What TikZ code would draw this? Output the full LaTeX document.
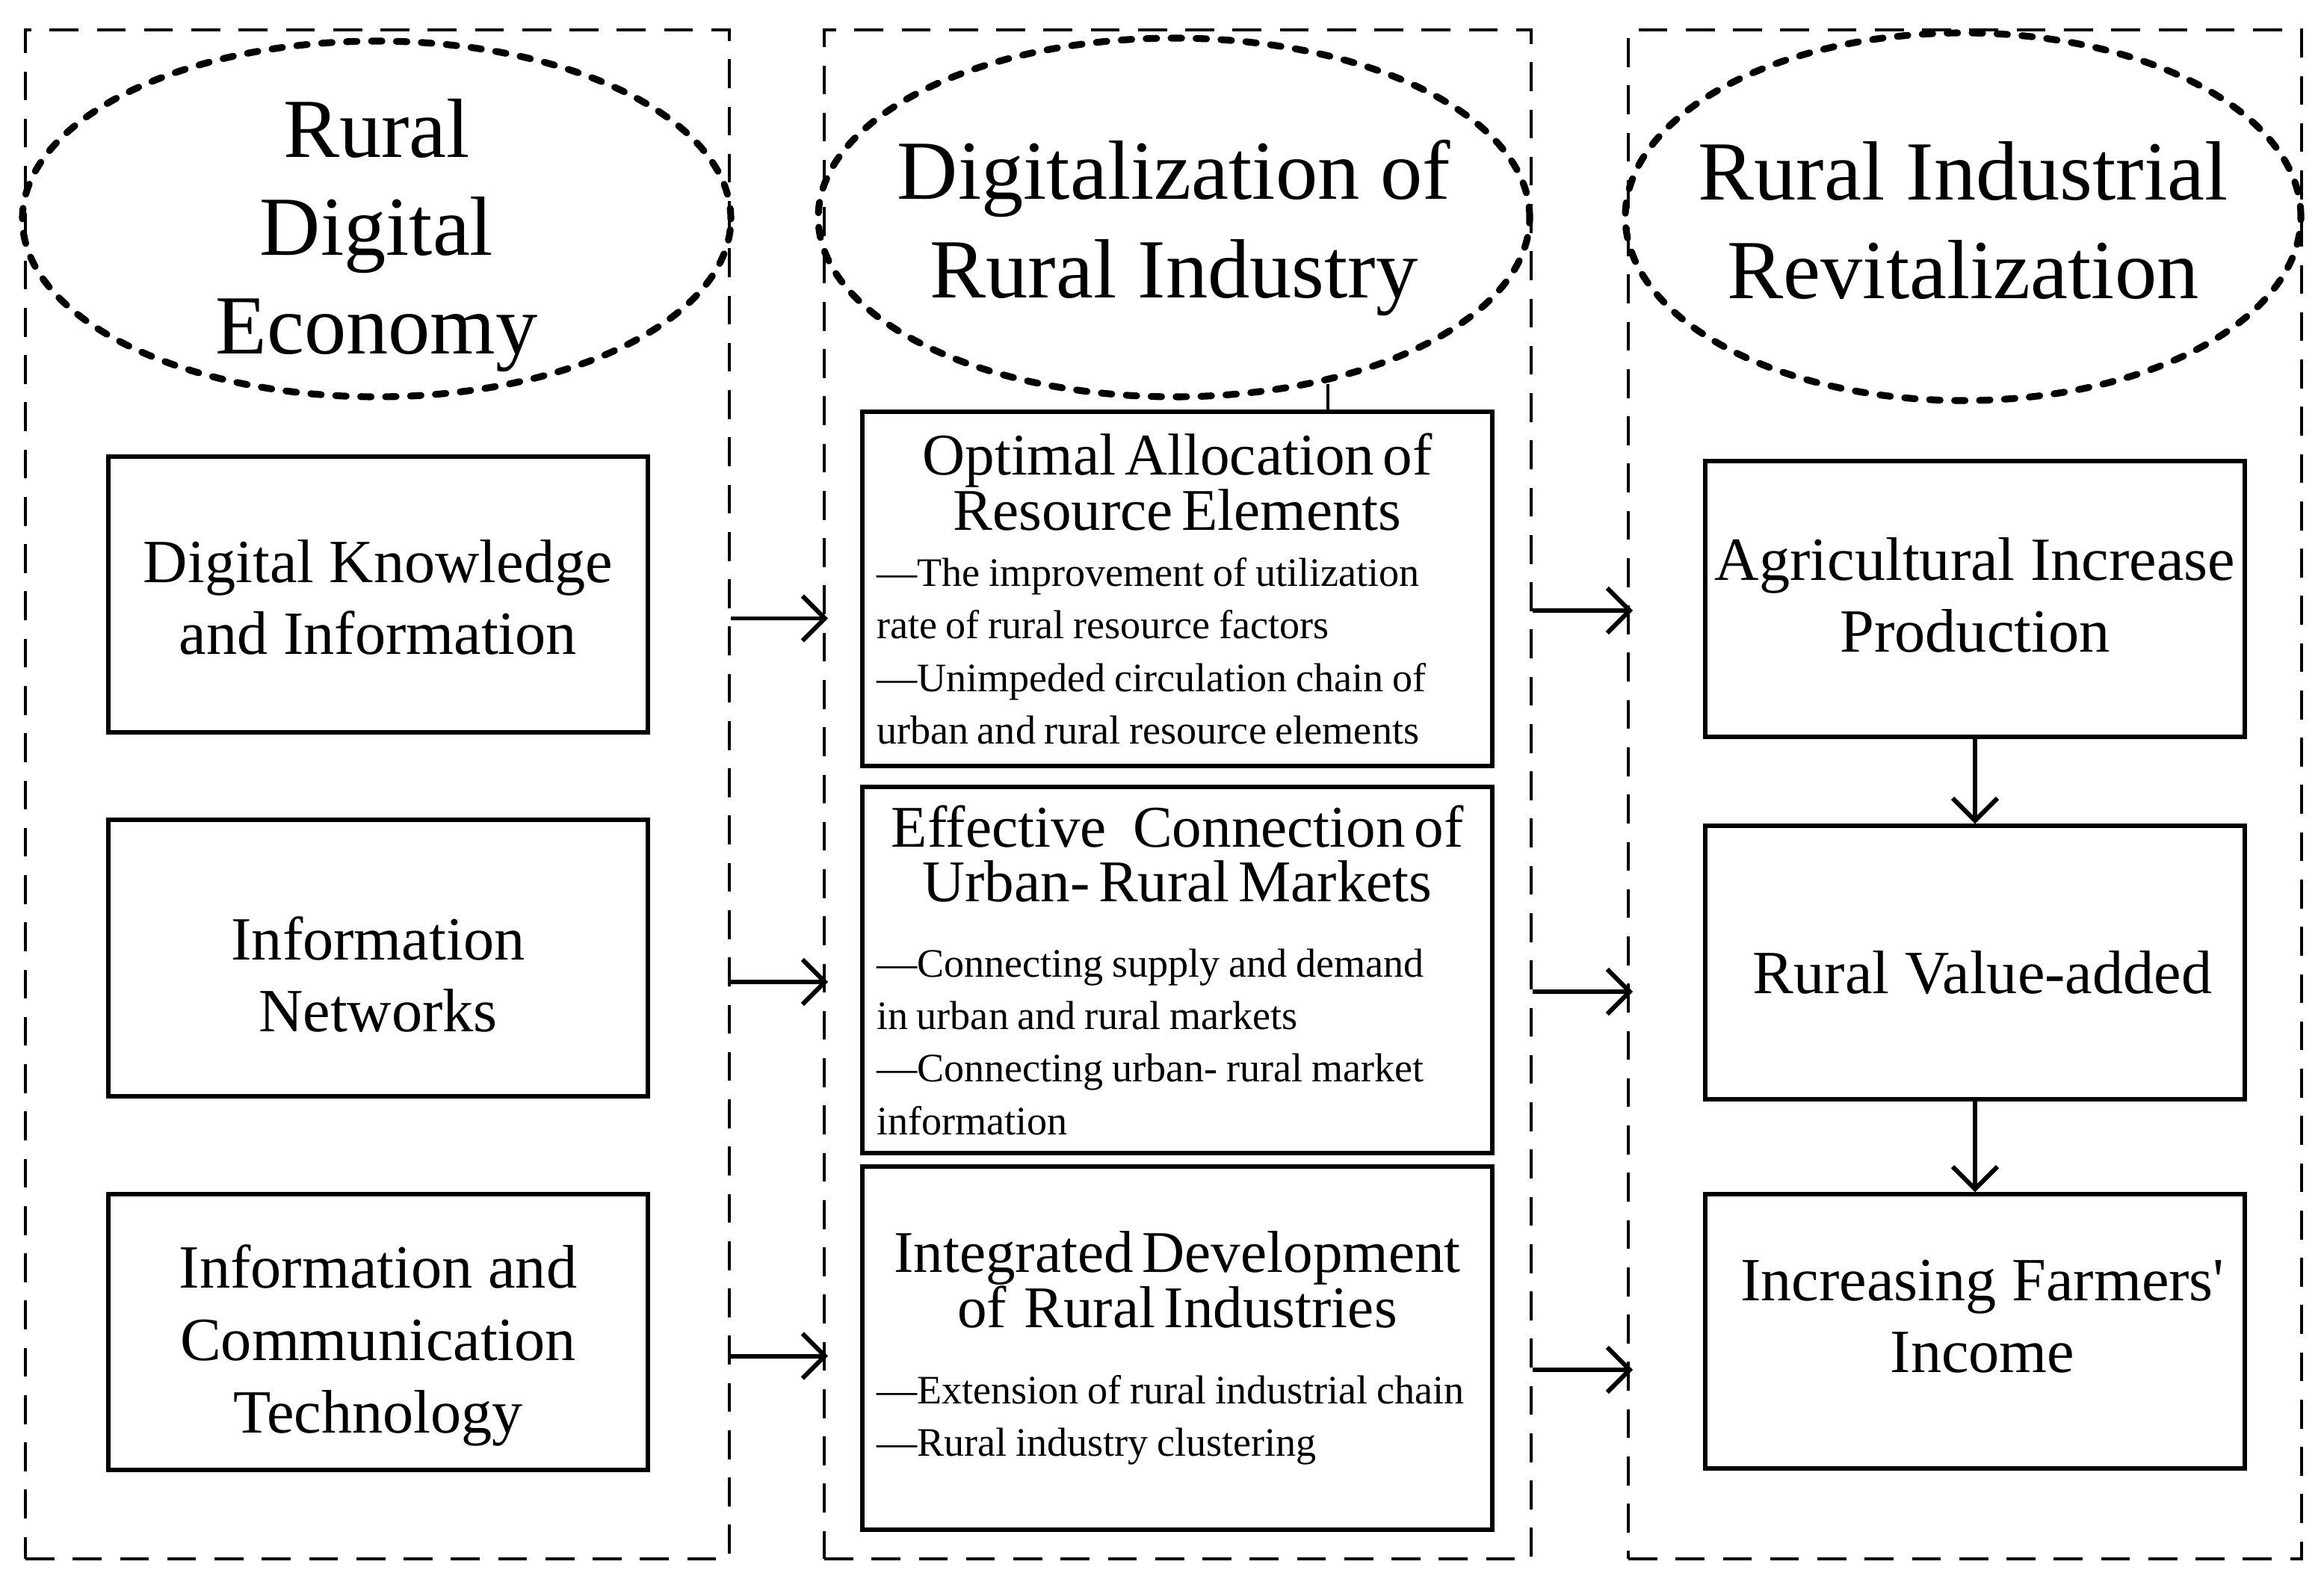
\documentclass[tikz,border=0pt]{standalone}
\usepackage{fontspec}
\setmainfont{Liberation Serif}
\usepackage{tikz}
\usetikzlibrary{positioning,calc,arrows.meta}

\newcommand{\titlesize}{\fontsize{32}{37.5}\selectfont}
\newcommand{\boxsize}{\fontsize{23.4}{27.5}\selectfont}
\newcommand{\headsize}{\fontsize{22.5}{21}\selectfont}
\newcommand{\notesize}{\fontsize{15.4}{20}\selectfont}

\begin{document}
\begin{tikzpicture}[
    >={Straight Barb[length=3mm,width=6mm]},
    panel/.style={draw,line width=1.1pt,dash pattern=on 11pt off 7pt,inner sep=0pt},
    oval/.style={line width=2.6pt,line cap=round,dash pattern=on 4pt off 5.5pt},
    title/.style={align=center,font=\titlesize,inner sep=0pt},
    sidebox/.style={draw,line width=1.5pt,minimum width=7.22cm},
    sidetext/.style={align=center,font=\boxsize,inner sep=0pt},
    midbox/.style={draw,line width=1.5pt,minimum width=8.43cm,text width=8.05cm,inner xsep=0.19cm,align=left},
    link/.style={->,line width=1.7pt}
]
\useasboundingbox (0,0) rectangle (31.1,-21.28);

% Dashed columns
\node[panel,minimum width=9.42cm,minimum height=20.46cm] (lpanel) at (5.05,-10.63) {};
\node[panel,minimum width=9.46cm,minimum height=20.46cm] (mpanel) at (15.76,-10.63) {};
\node[panel,minimum width=9.01cm,minimum height=20.46cm] (rpanel) at (26.295,-10.63) {};

% Column titles in dotted ovals
\draw[oval] (5.04,-2.93) ellipse [x radius=4.74,y radius=2.38];
\draw[oval] (15.71,-2.91) ellipse [x radius=4.76,y radius=2.40];
\draw[oval] (26.27,-2.90) ellipse [x radius=4.52,y radius=2.46];
\node[title] (ltitle) at (5.04,-3.15) {Rural\\Digital\\Economy};
\node[title] (mtitle) at (15.71,-3.05) {Digitalization of\\Rural Industry};
\node[title] (rtitle) at (26.27,-2.95) {Rural Industrial\\Revitalization};

% Left column
\node[sidebox,minimum height=3.69cm] (lbox1) at (5.06,-7.955) {};
\node[sidebox,minimum height=3.70cm] (lbox2) at (5.06,-12.82) {};
\node[sidebox,minimum height=3.69cm] (lbox3) at (5.06,-17.825) {};
\node[sidetext] (ltext1) at ($(lbox1)+(0,-0.04)$) {Digital Knowledge\\and Information};
\node[sidetext] (ltext2) at ($(lbox2)+(0,-0.22)$) {Information\\Networks};
\node[sidetext] (ltext3) at ($(lbox3)+(0,-0.18)$) {Information and\\Communication\\Technology};

% Middle column
\node[midbox,minimum height=4.74cm] (mbox1) at (15.755,-7.88) {%
    {\centering\headsize Optimal Allocation of\\Resource Elements\par}
    \vspace{0.05cm}
    {\notesize ---The improvement of utilization\\rate of rural resource factors\\---Unimpeded circulation chain of\\urban and rural resource elements\par}};
\node[midbox,minimum height=4.90cm] (mbox2) at (15.755,-12.98) {%
    {\centering\headsize Effective\ \ \ Connection of\\Urban- Rural Markets\par}
    \vspace{0.3cm}
    {\notesize ---Connecting supply and demand\\in urban and rural markets\\---Connecting urban- rural market\\information\par}};
\node[midbox,minimum height=4.86cm] (mbox3) at (15.755,-18.04) {%
    {\centering\headsize Integrated Development\\of\ \ Rural Industries\par}
    \vspace{0.32cm}
    {\notesize ---Extension of rural industrial chain\\---Rural industry clustering\par}};

% Right column
\node[sidebox,minimum height=3.69cm] (rbox1) at (26.43,-8.015) {};
\node[sidebox,minimum height=3.66cm] (rbox2) at (26.43,-12.88) {};
\node[sidebox,minimum height=3.67cm] (rbox3) at (26.43,-17.815) {};
\node[sidetext] (rtext1) at ($(rbox1)+(0,0.05)$) {Agricultural Increase\\Production};
\node[sidetext] (rtext2) at ($(rbox2)+(0.1,-0.14)$) {Rural Value-added};
\node[sidetext] (rtext3) at ($(rbox3)+(0.1,0.2)$) {Increasing Farmers\textquotesingle\\Income};

% Stray tick under the middle oval
\draw[line width=1.4pt] ([xshift=2.015cm]mbox1.north) -- ++(0,0.34);

% Arrows between the columns
\foreach \i in {1,2,3}
{
    \draw[link] ($(lpanel.east |- lbox\i)+(0,-0.32)$) -- ($(mpanel.west |- lbox\i)+(0.07,-0.32)$);
    \draw[link] ($(mpanel.east |- mbox\i)+(0,-0.29)$) -- ($(rpanel.west |- mbox\i)+(0.08,-0.29)$);
}

% Arrows down the right column
\draw[link] (rbox1) -- (rbox2);
\draw[link] (rbox2) -- (rbox3);

\end{tikzpicture}
\end{document}
